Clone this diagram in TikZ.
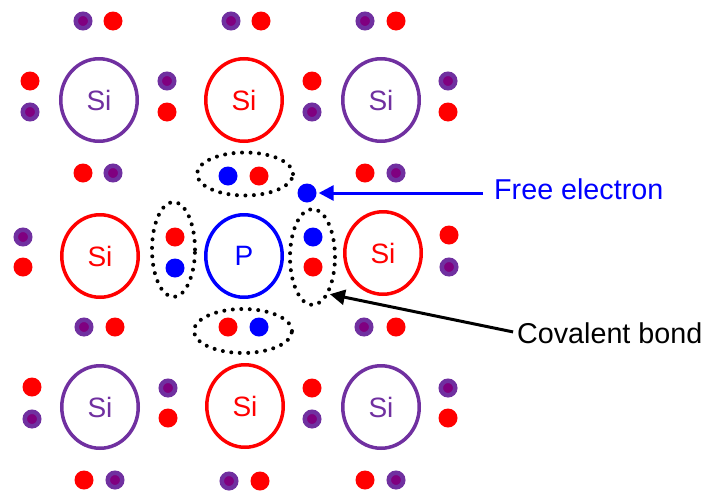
\documentclass[tikz,border=0pt]{standalone}
\usepackage{fontspec}
\setmainfont{Liberation Sans}
\usetikzlibrary{shapes.geometric,arrows.meta}
\definecolor{sipurple}{HTML}{7030A0}
\definecolor{edark}{HTML}{800080}
\begin{document}
\begin{tikzpicture}[x=1pt,y=-1pt,
  atom/.style={ellipse, draw, line width=3.5pt, minimum width=76.5pt, minimum height=82.5pt, inner sep=0pt, font=\fontsize{28}{30}\selectfont},
  ered/.style={circle, fill=red, minimum size=19pt, inner sep=0pt},
  eblue/.style={circle, fill=blue, minimum size=19pt, inner sep=0pt},
  epur/.style={circle, fill=edark, draw=sipurple, line width=4.5pt, minimum size=14.5pt, inner sep=0pt},
  bond/.style={ellipse, draw, line width=4pt, dash pattern=on 0pt off 8.5pt, line cap=round, inner sep=0pt},
  lbl/.style={font=\fontsize{28.7}{30}\selectfont, inner sep=0pt, anchor=base west},
  arr/.style={line width=3pt, -{Triangle[length=15pt,width=15pt]}}]
\useasboundingbox (0,0) rectangle (709,490);

% atoms
\node[atom, sipurple, text=sipurple] (a11) at (99,100) {Si};
\node[atom, red, text=red] (a12) at (244,100) {Si};
\node[atom, sipurple, text=sipurple] (a13) at (381,100) {Si};
\node[atom, red, text=red] (a21) at (100,256) {Si};
\node[atom, blue, text=blue] (a22) at (244,256) {P};
\node[atom, red, text=red] (a23) at (383,253) {Si};
\node[atom, sipurple, text=sipurple] (a31) at (100,407) {Si};
\node[atom, red, text=red] (a32) at (245,406) {Si};
\node[atom, sipurple, text=sipurple] (a33) at (381,407) {Si};

% bond ellipses
\node[bond, minimum width=96pt, minimum height=43pt] (tb) at (245,174) {};
\node[bond, minimum width=43pt, minimum height=95pt] (lb) at (173.5,249.5) {};
\node[bond, minimum width=45pt, minimum height=96pt] (rb) at (312.5,257) {};
\node[bond, minimum width=98pt, minimum height=44pt] (bb) at (243,331) {};

% vertical pairs, row 1
\node[ered] (v11a) at (30,81) {};   \node[epur] (v11b) at (30,112) {};
\node[epur] (v12a) at (167,81) {};  \node[ered] (v12b) at (167,112) {};
\node[ered] (v13a) at (312,81) {};  \node[epur] (v13b) at (312,112) {};
\node[epur] (v14a) at (448,81) {};  \node[ered] (v14b) at (448,112) {};
% vertical pairs, row 2
\node[epur] (v21a) at (23,237) {};  \node[ered] (v21b) at (23,267) {};
\node[ered] (v22a) at (175,237) {}; \node[eblue] (v22b) at (175,268) {};
\node[eblue] (v23a) at (313,237) {};\node[ered] (v23b) at (313,267) {};
\node[ered] (v24a) at (449,235) {}; \node[epur] (v24b) at (449,267) {};
% vertical pairs, row 3
\node[ered] (v31a) at (32,387) {};  \node[epur] (v31b) at (32,419) {};
\node[epur] (v32a) at (168,388) {}; \node[ered] (v32b) at (168,418) {};
\node[ered] (v33a) at (312,388) {}; \node[epur] (v33b) at (312,419) {};
\node[epur] (v34a) at (448,388) {}; \node[ered] (v34b) at (448,418) {};

% horizontal pairs
\node[epur] (h11a) at (83,21) {};   \node[ered] (h11b) at (113,21) {};
\node[epur] (h12a) at (231,21) {};  \node[ered] (h12b) at (261,21) {};
\node[epur] (h13a) at (365,21) {};  \node[ered] (h13b) at (396,21) {};
\node[ered] (h21a) at (83,173) {};  \node[epur] (h21b) at (113,173) {};
\node[eblue] (h22a) at (228,176) {};\node[ered] (h22b) at (259,176) {};
\node[ered] (h23a) at (365,173) {}; \node[epur] (h23b) at (396,173) {};
\node[epur] (h31a) at (84,327) {};  \node[ered] (h31b) at (115,327) {};
\node[ered] (h32a) at (228,327) {}; \node[eblue] (h32b) at (259,327) {};
\node[epur] (h33a) at (364,327) {}; \node[ered] (h33b) at (396,327) {};
\node[ered] (h41a) at (84,480) {};  \node[epur] (h41b) at (115,480) {};
\node[epur] (h42a) at (229,481) {}; \node[ered] (h42b) at (260,481) {};
\node[ered] (h43a) at (365,480) {}; \node[epur] (h43b) at (396,480) {};

% free electron
\node[eblue] (free) at (307,193) {};

% labels
\node[lbl, text=blue] (fe) at (494,199) {Free electron};
\node[lbl] (cb) at (517,343) {Covalent bond};

% arrows
\draw[arr, blue, shorten <=11pt, shorten >=2pt] (free.east -| fe.west) -- (free.east);
\draw[arr, black, shorten <=4pt, shorten >=1pt] (cb.west) -- (rb.-66);
\end{tikzpicture}
\end{document}
